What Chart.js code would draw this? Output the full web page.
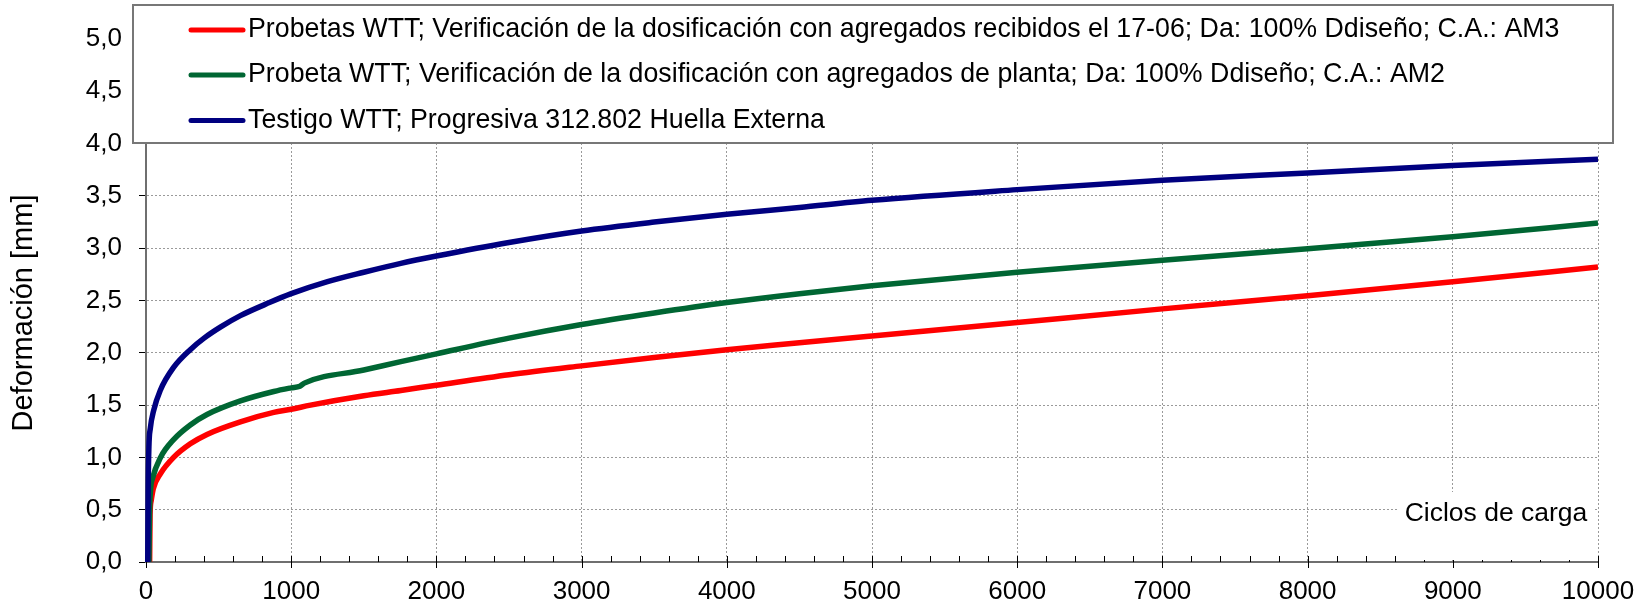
<!DOCTYPE html>
<html lang="es">
<head>
<meta charset="utf-8">
<title>Deformación vs ciclos de carga</title>
<script src="https://cdn.jsdelivr.net/npm/chart.js@4.4.0/dist/chart.umd.min.js"></script>
<style>
  html, body { margin: 0; padding: 0; background: #fff; }
  #chart { display: block; }
</style>
</head>
<body>
<canvas id="chart" width="1652" height="607"></canvas>
<script>
// Series labels
const seriesLabels = [
    'Probetas WTT; Verificación de la dosificación con agregados recibidos el 17-06; Da: 100% Ddiseño; C.A.: AM3',
    'Probeta WTT; Verificación de la dosificación con agregados de planta; Da: 100% Ddiseño; C.A.: AM2',
    'Testigo WTT; Progresiva 312.802 Huella Externa'
];
const seriesColors = ['#ff0000', '#006633', '#000080'];

// Probetas AM3 (red)
const cyclesRed = [25, 28, 35, 50, 100, 190, 305, 420, 650, 880, 1000, 1133, 1500, 1755, 2000, 2500, 3000, 3500, 4000, 4500, 5000, 6000, 7000, 8000, 9000, 10000];
const defRed = [0, 0.45, 0.58, 0.70, 0.845, 1.00, 1.13, 1.22, 1.34, 1.43, 1.46, 1.50, 1.59, 1.64, 1.69, 1.79, 1.875, 1.955, 2.03, 2.095, 2.16, 2.29, 2.42, 2.545, 2.68, 2.82];

// Probeta AM2 (green)
const cyclesGreen = [20, 24, 32, 45, 100, 190, 305, 420, 650, 880, 1000, 1060, 1090, 1500, 1755, 2000, 2500, 3000, 3500, 4000, 4500, 5000, 6000, 7000, 8000, 9000, 10000];
const defGreen = [0, 0.45, 0.70, 0.80, 1.0, 1.17, 1.31, 1.41, 1.54, 1.63, 1.665, 1.68, 1.71, 1.835, 1.915, 1.99, 2.14, 2.27, 2.38, 2.48, 2.565, 2.64, 2.77, 2.885, 2.995, 3.11, 3.24];

// Testigo (blue)
const cyclesBlue = [12, 15, 20, 30, 53, 98, 190, 305, 400, 512, 650, 850, 1000, 1250, 1500, 1755, 2000, 2500, 3000, 3500, 4000, 4500, 5000, 6000, 7000, 8000, 9000, 10000];
const defBlue = [0, 0.7, 1.10, 1.28, 1.45, 1.64, 1.86, 2.03, 2.14, 2.245, 2.355, 2.48, 2.565, 2.68, 2.77, 2.855, 2.925, 3.055, 3.165, 3.25, 3.324, 3.39, 3.458, 3.56, 3.65, 3.72, 3.79, 3.85];

const xTitle = 'Ciclos de carga';
const yTitle = 'Deformación [mm]';

const FONT = '"Liberation Sans", Arial, sans-serif';
Chart.defaults.font.family = FONT;
Chart.defaults.font.size = 26;
Chart.defaults.color = '#000';

const toPoints = (xs, ys) => xs.map((x, i) => ({ x: x, y: ys[i] }));

// Ticks across the x axis, axis titles and the framed legend
const overlay = {
    id: 'overlay',
    beforeDatasetsDraw(chart) {
        const { ctx, chartArea } = chart;
        const xScale = chart.scales.x;
        const base = chartArea.bottom;
        ctx.save();
        ctx.strokeStyle = '#000';
        ctx.lineWidth = 1;
        for (let v = 0; v <= 10000; v += 200) {
            const px = Math.round(xScale.getPixelForValue(v)) + 0.5;
            const major = v % 1000 === 0;
            ctx.beginPath();
            ctx.moveTo(px, base - 6);
            ctx.lineTo(px, major ? base + 6 : base);
            ctx.stroke();
        }
        // white label box over the grid, bottom right
        ctx.fillStyle = '#fff';
        ctx.fillRect(chartArea.right - 201, base - 70, 198, 68);
        ctx.fillStyle = '#000';
        ctx.font = '26.5px ' + FONT;
        ctx.textAlign = 'center';
        ctx.textBaseline = 'middle';
        ctx.fillText(xTitle, chartArea.right - 102, base - 48);

        // y axis title
        ctx.translate(24, 313);
        ctx.rotate(-Math.PI / 2);
        ctx.font = '29px ' + FONT;
        ctx.fillText(yTitle, 0, 0);
        ctx.restore();
    },
    afterDraw(chart) {
        const { ctx } = chart;
        ctx.save();
        ctx.fillStyle = '#fff';
        ctx.fillRect(133, 5, 1480, 138);
        ctx.strokeStyle = '#777';
        ctx.lineWidth = 2;
        ctx.strokeRect(133, 5, 1480, 138);
        const rows = [30, 75, 120.5];
        ctx.font = '26.75px ' + FONT;
        ctx.textAlign = 'left';
        ctx.textBaseline = 'middle';
        seriesLabels.forEach((label, i) => {
            ctx.strokeStyle = seriesColors[i];
            ctx.lineWidth = 5;
            ctx.lineCap = 'round';
            ctx.beginPath();
            ctx.moveTo(191, rows[i]);
            ctx.lineTo(243, rows[i]);
            ctx.stroke();
            ctx.fillStyle = '#000';
            ctx.fillText(label, 248, rows[i]);
        });
        ctx.restore();
    }
};

const lineOpts = {
    borderWidth: 5.5,
    pointRadius: 0,
    fill: false,
    cubicInterpolationMode: 'monotone',
    clip: { left: 4, top: 4, right: 0, bottom: 0 }
};

const myChart = new Chart(document.getElementById('chart'), {
    type: 'line',
    data: {
        datasets: [
            Object.assign({ label: seriesLabels[0], data: toPoints(cyclesRed, defRed), borderColor: seriesColors[0], order: 2 }, lineOpts),
            Object.assign({ label: seriesLabels[1], data: toPoints(cyclesGreen, defGreen), borderColor: seriesColors[1], order: 1 }, lineOpts),
            Object.assign({ label: seriesLabels[2], data: toPoints(cyclesBlue, defBlue), borderColor: seriesColors[2], order: 0 }, lineOpts)
        ]
    },
    options: {
        responsive: false,
        devicePixelRatio: 1,
        animation: false,
        layout: { padding: { left: 0, top: 39, right: 54, bottom: 0 } },
        plugins: {
            legend: { display: false },
            tooltip: { enabled: false }
        },
        scales: {
            x: {
                type: 'linear',
                min: 0,
                max: 10000,
                afterFit: s => { s.height = 45; },
                ticks: {
                    stepSize: 1000,
                    padding: 14,
                    maxRotation: 0,
                    callback: v => String(v)
                },
                grid: { color: '#9a9a9a', lineWidth: 1, drawTicks: false },
                border: { color: '#6f6f6f', width: 2, dash: [2, 2] }
            },
            y: {
                min: 0,
                max: 5,
                afterFit: s => { s.width = 146; },
                ticks: {
                    stepSize: 0.5,
                    padding: 17,
                    callback: v => v.toFixed(1).replace('.', ',')
                },
                grid: { color: '#9a9a9a', lineWidth: 1, drawTicks: true, tickLength: 7, tickColor: '#000' },
                border: { color: '#6f6f6f', width: 2, dash: [2, 2] }
            }
        }
    },
    plugins: [overlay]
});
</script>
</body>
</html>
